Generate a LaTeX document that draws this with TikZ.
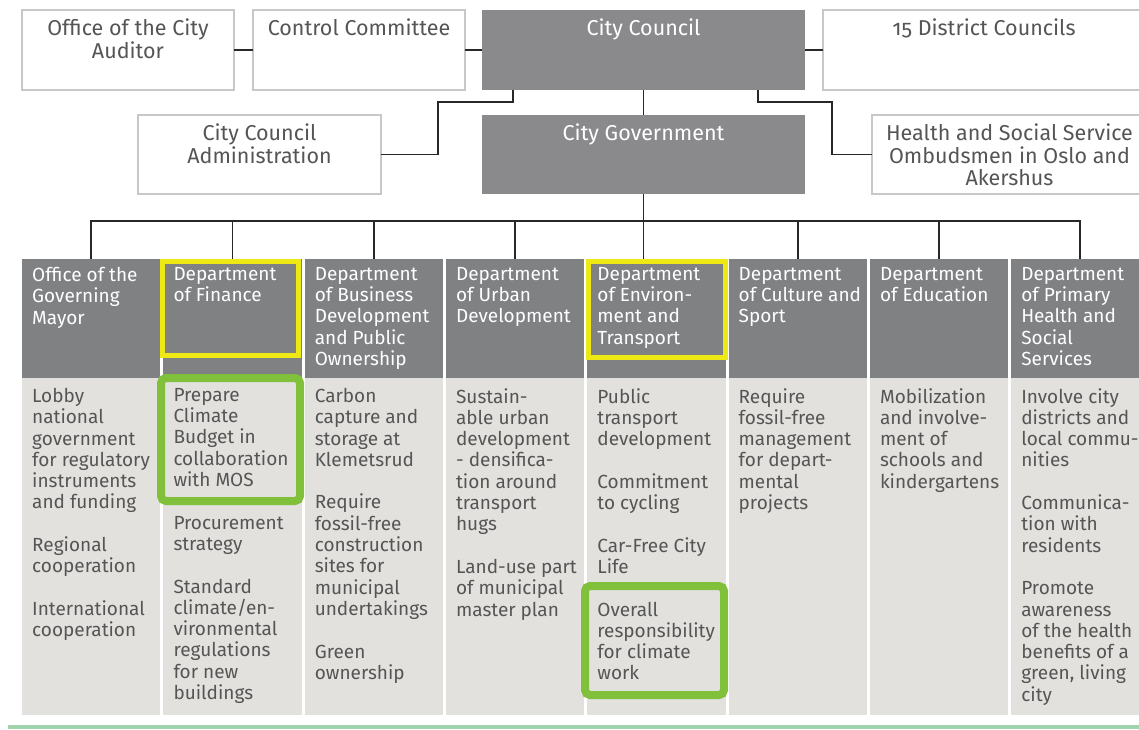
\documentclass[tikz,border=0pt]{standalone}
\usepackage{fontspec}
\setmainfont{Fira Sans}
\usetikzlibrary{positioning}

\definecolor{boxline}{RGB}{200,200,200}
\definecolor{topgray}{RGB}{138,138,140}
\definecolor{headgray}{RGB}{128,129,131}
\definecolor{bodygray}{RGB}{226,225,222}
\definecolor{inkgray}{RGB}{85,85,85}
\definecolor{linkgray}{RGB}{40,40,40}
\definecolor{markyellow}{RGB}{238,232,20}
\definecolor{markgreen}{RGB}{128,192,58}
\definecolor{footgreen}{RGB}{160,212,172}

\newcommand{\topfont}{\fontsize{21.5}{22.5}\selectfont}
\newcommand{\colfont}{\fontsize{19}{21.3}\selectfont}

\begin{document}
\begin{tikzpicture}[x=1pt,y=1pt,node distance=3pt,
box/.style={draw=boxline,line width=1.3pt,fill=white,minimum height=80pt,inner sep=0pt,outer sep=0pt},
gbox/.style={fill=topgray,minimum height=80pt,inner sep=0pt,outer sep=0pt},
ttl/.style={label={[anchor=north,yshift=-9pt,inner sep=0pt,align=center,font=\topfont,text=inkgray]north:{#1}}},
wttl/.style={label={[anchor=north,yshift=-9pt,inner sep=0pt,align=center,font=\topfont,text=white]north:{#1}}},
head/.style={fill=headgray,minimum width=138.3pt,minimum height=119pt,inner sep=0pt,outer sep=0pt,
  label={[anchor=north west,xshift=10pt,yshift=-8pt,inner sep=0pt,align=left,font=\colfont,text=white]north west:{#1}}},
body/.style={fill=bodygray,minimum width=138.3pt,minimum height=337pt,inner sep=0pt,outer sep=0pt,
  label={[anchor=north west,xshift=10pt,yshift=-10pt,inner sep=0pt,align=left,font=\colfont,text=inkgray]north west:{#1}}},
link/.style={draw=linkgray,line width=1.8pt},
ymark/.style={draw=markyellow,line width=5pt},
gmark/.style={draw=markgreen,line width=8pt,rounded corners=5pt}]

        \useasboundingbox (0,0) rectangle (1139,-729);

        \node [box, minimum width=212pt, anchor=north west, ttl={Office of the City\\Auditor}] (OA) at (22,-10) {};
        \node [box, minimum width=212pt, right = 19pt of OA, ttl={Control Committee}] (CT) {};
        \node [gbox, minimum width=323pt, right = 17pt of CT, wttl={City Council}] (CC) {};
        \node [box, minimum width=322pt, right = 18pt of CC, ttl={{\addfontfeature{Numbers=OldStyle}15} District Councils}] (DC) {};
        \node [gbox, minimum width=323pt, minimum height=79pt, below = 25pt of CC, wttl={City Government}] (CG) {};
        \node [box, minimum width=243pt, minimum height=79pt, left = 101pt of CG, ttl={City Council\\Administration}] (AD) {};
        \node [box, minimum width=275pt, minimum height=79pt, right = 67pt of CG, ttl={Health and Social Service\\Ombudsmen in Oslo and\\Akershus}] (HS) {};

        \node [head={Office of the\\Governing\\Mayor}, anchor=north west] (H1) at (22,-259) {};
        \node [head={Department\\of Finance}, right = of H1] (H2) {};
        \node [head={Department\\of Business\\Development\\and Public\\Ownership}, right = of H2] (H3) {};
        \node [head={Department\\of Urban\\Development}, right = of H3] (H4) {};
        \node [head={Department\\of Environ-\\ment and\\Transport}, right = of H4] (H5) {};
        \node [head={Department\\of Culture and\\Sport}, right = of H5] (H6) {};
        \node [head={Department\\of Education}, right = of H6] (H7) {};
        \node [head={Department\\of Primary\\Health and\\Social\\Services}, right = of H7] (H8) {};

        \node [body={Lobby\\national\\government\\for regulatory\\instruments\\and funding\\[21.3pt]Regional\\cooperation\\[21.3pt]International\\cooperation}, below = 0pt of H1] (B1) {};
        \node [body={Prepare\\Climate\\Budget in\\collaboration\\with MOS\\[21.3pt]Procurement\\strategy\\[21.3pt]Standard\\climate/en-\\vironmental\\regulations\\for new\\buildings}, below = 0pt of H2] (B2) {};
        \node [body={Carbon\\capture and\\storage at\\Klemetsrud\\[21.3pt]Require\\fossil-free\\construction\\sites for\\municipal\\undertakings\\[21.3pt]Green\\ownership}, below = 0pt of H3] (B3) {};
        \node [body={Sustain-\\able urban\\development\\- densifica-\\tion around\\transport\\hugs\\[21.3pt]Land-use part\\of municipal\\master plan}, below = 0pt of H4] (B4) {};
        \node [body={Public\\transport\\development\\[21.3pt]Commitment\\to cycling\\[21.3pt]Car-Free City\\Life\\[21.3pt]Overall\\responsibility\\for climate\\work}, below = 0pt of H5] (B5) {};
        \node [body={Require\\fossil-free\\management\\for depart-\\mental\\projects}, below = 0pt of H6] (B6) {};
        \node [body={Mobilization\\and involve-\\ment of\\schools and\\kindergartens}, below = 0pt of H7] (B7) {};
        \node [body={Involve city\\districts and\\local commu-\\nities\\[21.3pt]Communica-\\tion with\\residents\\[21.3pt]Promote\\awareness\\of the health\\benefits of a\\green, living\\city}, below = 0pt of H8] (B8) {};

        \draw [link] (OA) -- (CT);
        \draw [link] (CT) -- (CC);
        \draw [link] (CC) -- (DC);
        \draw [link] (CC) -- (CG);
        \draw [link] ([xshift=31pt]CC.south west) |- ++(-75,-12) |- (AD.east);
        \draw [link] ([xshift=-47pt]CC.south east) |- ++(74,-12) |- (HS.west);
        \draw [link] (CG.south) -- (CG.south |- H5.north);
        \draw [link] (H1.north) -- ++(0,38) -| (H8.north);
        \draw [link] (H2.north) -- ++(0,38);
        \draw [link] (H3.north) -- ++(0,38);
        \draw [link] (H4.north) -- ++(0,38);
        \draw [link] (H6.north) -- ++(0,38);
        \draw [link] (H7.north) -- ++(0,38);

        \draw [ymark] (162.5,-261.5) rectangle (298.5,-355.5);
        \draw [ymark] (588.5,-261.5) rectangle (725.5,-357.5);
        \draw [gmark] (161,-378) rectangle (300,-501);
        \draw [gmark] (585,-586) rectangle (724,-695);

        \draw [draw=footgreen, line width=4pt] (8,-726.5) -- (1139,-726.5);
    \end{tikzpicture}
\end{document}
